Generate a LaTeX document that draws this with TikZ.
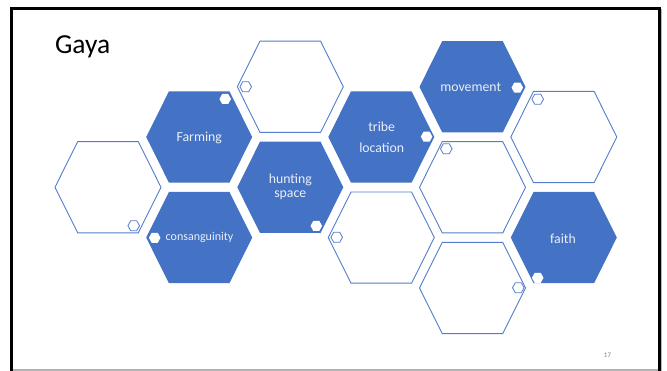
\documentclass[tikz,border=0pt]{standalone}
\usepackage{fontspec}
\setmainfont{Carlito}
\definecolor{hexblue}{RGB}{68,114,196}
\definecolor{hexline}{RGB}{84,125,203}
\definecolor{lbltext}{RGB}{234,239,248}
\tikzset{
  bhex/.pic={\path[pic actions] (-53,0) -- (-30.3,-45.6) -- (30.3,-45.6) -- (53,0) -- (30.3,45.6) -- (-30.3,45.6) -- cycle;},
  smhex/.pic={\path[pic actions] (-5.8,0) -- (-3,-5) -- (3,-5) -- (5.8,0) -- (3,5) -- (-3,5) -- cycle;},
  solidhex/.style={fill=hexblue, draw=none},
  openhex/.style={fill=white, draw=hexline, line width=0.9pt, line join=miter},
  solidmark/.style={fill=white, draw=none},
  openmark/.style={fill=white, draw=hexline, line width=0.8pt},
  lbl/.style={anchor=base, inner sep=0pt, text=lbltext, font=\fontsize{13.8}{15}\selectfont},
}
\begin{document}
\begin{tikzpicture}[x=1pt, y=-1pt]
\useasboundingbox (0,0) rectangle (667,371);
% slide frame
\draw[gray!60, line width=1.6pt] (11,370.2) -- (661.5,370.2);
\draw[gray!55, line width=1.4pt] (661.3,9) -- (661.3,371);
\draw[black, line width=2.5pt, line join=miter] (11.3,371) -- (11.3,8.7) -- (659.3,8.7) -- (659.3,371);
% title and page number
\node[anchor=base west, inner sep=0pt, font=\fontsize{27.5}{30}\selectfont] (title) at (54.8,53.4) {Gaya};
\node[anchor=base, inner sep=0pt, text=gray, font=\fontsize{7}{8}\selectfont] (pageno) at (607.5,357.7) {17};
% hexagon centres
\coordinate (hE1) at (108,187.3);
\coordinate (hFarm) at (199.2,137);
\coordinate (hCons) at (199.2,237.6);
\coordinate (hE2) at (290.3,86.8);
\coordinate (hHunt) at (290.3,187.3);
\coordinate (hTribe) at (381.3,137);
\coordinate (hE3) at (381.3,237.6);
\coordinate (hMove) at (472.5,86.8);
\coordinate (hE4) at (472.5,187.3);
\coordinate (hE5) at (472.5,288);
\coordinate (hE6) at (563.8,137);
\coordinate (hFaith) at (563.8,237.6);
% big hexagons
\pic[openhex] at (hE1) {bhex};
\pic[solidhex] at (hFarm) {bhex};
\pic[solidhex] at (hCons) {bhex};
\pic[openhex] at (hE2) {bhex};
\pic[solidhex] at (hHunt) {bhex};
\pic[solidhex] at (hTribe) {bhex};
\pic[openhex] at (hE3) {bhex};
\pic[solidhex] at (hMove) {bhex};
\pic[openhex] at (hE4) {bhex};
\pic[openhex] at (hE5) {bhex};
\pic[openhex] at (hE6) {bhex};
\pic[solidhex] at (hFaith) {bhex};
% small marker hexagons
\pic[openmark] at ([shift={(25.7,38.4)}]hE1) {smhex};
\pic[solidmark] at ([shift={(26,-38)}]hFarm) {smhex};
\pic[solidmark] at ([shift={(-44.5,0.2)}]hCons) {smhex};
\pic[openmark] at ([shift={(-44.6,0)}]hE2) {smhex};
\pic[solidmark] at ([shift={(26,38.6)}]hHunt) {smhex};
\pic[solidmark] at ([shift={(45.3,-0.3)}]hTribe) {smhex};
\pic[openmark] at ([shift={(-44.6,-0.3)}]hE3) {smhex};
\pic[solidmark] at ([shift={(44.8,0.8)}]hMove) {smhex};
\pic[openmark] at ([shift={(-26.2,-38.5)}]hE4) {smhex};
\pic[openmark] at ([shift={(45.8,-0.3)}]hE5) {smhex};
\pic[openmark] at ([shift={(-26.1,-37.8)}]hE6) {smhex};
\pic[solidmark] at ([shift={(-26.1,40.2)}]hFaith) {smhex};
% labels
\node[lbl] (tFarm) at (199.3,141.7) {Farming};
\node[lbl, font=\fontsize{12}{14}\selectfont] (tCons) at (199.5,240.6) {consanguinity};
\node[lbl] (tHunt1) at (290.3,183.6) {hunting};
\node[lbl] (tHunt2) at (290.3,197.6) {space};
\node[lbl] (tTribe1) at (381.7,131.7) {tribe};
\node[lbl] (tTribe2) at (381.7,152.7) {location};
\node[lbl] (tMove) at (470.7,91.2) {movement};
\node[lbl] (tFaith) at (563,243.4) {faith};
\end{tikzpicture}
\end{document}
